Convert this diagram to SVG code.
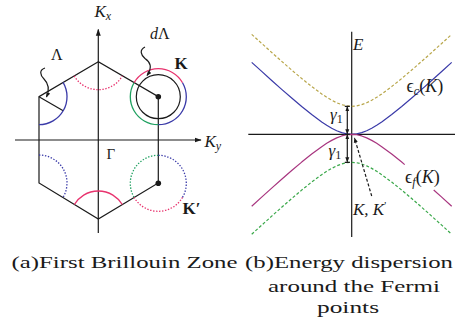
<svg xmlns="http://www.w3.org/2000/svg" xmlns:xlink="http://www.w3.org/1999/xlink" width="459" height="326" viewBox="0 0 459 326" font-family="'Liberation Serif', 'Times New Roman', serif">
<style>
.ln{fill:none;stroke:#1a1a1a;stroke-width:1.2}
.arc{fill:none;stroke-width:1.3}
.dot{stroke-dasharray:1.4,1.6}
.pink{stroke:#e8336e}
.blue{stroke:#3a3aa8}
.green{stroke:#1fa060}
text{font-family:'Liberation Serif','Times New Roman',serif;fill:#1a1a1a}
.it{font-style:italic}
.b{font-weight:bold}
.curve{fill:none;stroke-width:1.2;stroke-linejoin:round}
.dash{stroke-dasharray:3,2}
</style>
<defs>
<marker id="ah" viewBox="0 0 10 10" refX="9" refY="5" markerWidth="7" markerHeight="7" orient="auto-start-reverse" markerUnits="userSpaceOnUse"><path d="M0,1.5 L10,5 L0,8.5 z" fill="#1a1a1a"/></marker>
<marker id="ahs" viewBox="0 0 10 10" refX="9" refY="5" markerWidth="5" markerHeight="5" orient="auto-start-reverse" markerUnits="userSpaceOnUse"><path d="M0,1 L10,5 L0,9 z" fill="#1a1a1a"/></marker>
<path id="hyp" d="M-100,-71.98 L-90,-62.87 L-80,-53.85 L-70,-44.96 L-60,-36.24 L-50,-27.79 L-40,-19.74 L-30,-12.35 L-25,-9.03 L-20,-6.07 L-15,-3.56 L-10,-1.64 L-5,-0.42 L0,0 L5,-0.42 L10,-1.64 L15,-3.56 L20,-6.07 L25,-9.03 L30,-12.35 L40,-19.74 L50,-27.79 L60,-36.24 L70,-44.96 L80,-53.85 L90,-62.87 L100,-71.98"/>
</defs>

<!-- Panel (a): Brillouin zone -->
<g id="zone">
<polygon class="ln" points="98.3,61.7 39,96.7 39,183 98.3,219 158.3,183 158.3,96.7"/>
<line class="ln" x1="39" y1="96.7" x2="63.2" y2="110.7"/>
</g>
<g id="axes-a">
<line class="ln" x1="15" y1="140" x2="201" y2="140" marker-end="url(#ah)"/>
<line class="ln" x1="98.3" y1="233" x2="98.3" y2="29.5" marker-end="url(#ah)"/>
<text class="it" x="94.5" y="17" font-size="17">K<tspan font-size="12" dy="3">x</tspan></text>
<text class="it" x="204.5" y="146.5" font-size="17">K<tspan font-size="12" dy="3">y</tspan></text>
<text x="106.5" y="158.5" font-size="15">Γ</text>
</g>
<g id="arcs">
<path class="arc blue" d="M63.08,82.4 A28,28 0 0 1 39,124.7"/>
<path class="arc pink dot" d="M74.19,75.93 A28,28 0 0 0 122.41,75.93"/>
<path class="arc blue dot" d="M39,155 A28,28 0 0 1 62.94,197.53"/>
<path class="arc pink" d="M74.36,204.47 A28,28 0 0 1 122.24,204.47"/>
</g>
<g id="K">
<path class="arc pink" d="M134.05,82.7 A28,28 0 0 1 182.55,82.7"/>
<path class="arc blue" d="M182.55,82.7 A28,28 0 0 1 158.3,124.7"/>
<path class="arc green" d="M158.3,124.7 A28,28 0 0 1 134.05,82.7"/>
<circle class="ln" cx="158.3" cy="96.7" r="22"/>
<circle cx="158.3" cy="96.7" r="2.8" fill="#1a1a1a"/>
<text class="b" x="174.5" y="68.5" font-size="17">K</text>
</g>
<g id="Kp">
<path class="arc green dot" d="M158.3,155.3 A28,28 0 0 0 134.05,197.3"/>
<path class="arc pink dot" d="M134.05,197.3 A28,28 0 0 0 182.55,197.3"/>
<path class="arc blue dot" d="M182.55,197.3 A28,28 0 0 0 158.3,155.3"/>
<circle cx="158.3" cy="183.3" r="2.8" fill="#1a1a1a"/>
<text class="b" x="182.5" y="213.5" font-size="17">K′</text>
</g>
<g id="lambda">
<text x="51" y="60" font-size="16">Λ</text>
<path class="ln" d="M45,68 C39,70 40,75 44,79 C48,83 50,89 46.5,97" stroke-width="0.9" marker-end="url(#ahs)"/>
</g>
<g id="dlambda">
<text x="150" y="38.5" font-size="16"><tspan class="it">d</tspan>Λ</text>
<path class="ln" d="M145,47 C139,50 141,55 145,58.5 C150,62 153,67 147,75.5" stroke-width="0.9" marker-end="url(#ahs)"/>
</g>

<!-- Panel (b): energy dispersion -->
<g id="axes-b">
<line class="ln" x1="248.3" y1="134.3" x2="455" y2="134.3"/>
<line class="ln" x1="351.7" y1="31.7" x2="351.7" y2="237"/>
<text class="it" x="353" y="50" font-size="17">E</text>
</g>
<g id="bands">
<use xlink:href="#hyp" href="#hyp" class="curve dash" stroke="#b8a64a" transform="translate(351.7,106.3)"/>
<use xlink:href="#hyp" href="#hyp" class="curve" stroke="#3a3aa8" transform="translate(351.7,134.3)"/>
<path class="curve" stroke="#a8357f" d="M251.7,206.28 L261.7,197.17 L271.7,188.15 L281.7,179.26 L291.7,170.54 L301.7,162.09 L311.7,154.04 L321.7,146.65 L326.7,143.33 L331.7,140.37 L336.7,137.86 L341.7,135.94 L346.7,134.72 L351.7,134.3 L356.7,134.72 L361.7,135.94 L366.7,137.86 L371.7,140.37 L376.7,143.33 L381.7,146.65 L391.7,154.04 L401.7,162.09 L404.7,164.59 M433.7,189.95 L441.7,197.17 L451.7,206.28"/>
<use xlink:href="#hyp" href="#hyp" class="curve dash" stroke="#3aa84a" transform="translate(351.7,162.3) scale(1,-1)"/>
<text x="406.5" y="92" font-size="18">ϵ<tspan class="it" font-size="12" dy="3">c</tspan><tspan dy="-3">(</tspan><tspan class="it">K</tspan>)</text>
<text x="405" y="183" font-size="18">ϵ<tspan class="it" font-size="12" dy="3">f</tspan><tspan dy="-3">(</tspan><tspan class="it">K</tspan>)</text>
</g>
<g id="gaps">
<line class="ln" x1="347.3" y1="106.8" x2="347.3" y2="133.8" stroke-width="0.8" marker-start="url(#ahs)" marker-end="url(#ahs)"/>
<line class="ln" x1="347.3" y1="134.8" x2="347.3" y2="161.8" stroke-width="0.8" marker-start="url(#ahs)" marker-end="url(#ahs)"/>
<path class="ln" d="M344.8,106.3 H349.8 M344.8,134.3 H349.8 M344.8,162.3 H349.8" stroke-width="0.8"/>
<text class="it" x="330" y="120" font-size="17">γ<tspan font-size="12" dy="3" font-style="normal">1</tspan></text>
<text class="it" x="328.5" y="155.5" font-size="17">γ<tspan font-size="12" dy="3" font-style="normal">1</tspan></text>
</g>
<g id="fermi">
<path class="ln" d="M371.7,196 L354.5,138" stroke-width="0.9" stroke-dasharray="3,2" marker-end="url(#ahs)"/>
<text class="it" x="353" y="215" font-size="17">K, K<tspan font-size="11" dy="-6" font-style="normal">'</tspan></text>
</g>

<!-- Captions -->
<g id="captions">
<text x="11.5" y="268" font-size="17" textLength="226" lengthAdjust="spacingAndGlyphs">(a)First Brillouin Zone</text>
<text x="349" y="268" font-size="17" text-anchor="middle" textLength="208" lengthAdjust="spacingAndGlyphs">(b)Energy dispersion</text>
<text x="354" y="291.5" font-size="17" text-anchor="middle" textLength="172" lengthAdjust="spacingAndGlyphs">around the Fermi</text>
<text x="348" y="313" font-size="17" text-anchor="middle" textLength="62" lengthAdjust="spacingAndGlyphs">points</text>
</g>
</svg>
